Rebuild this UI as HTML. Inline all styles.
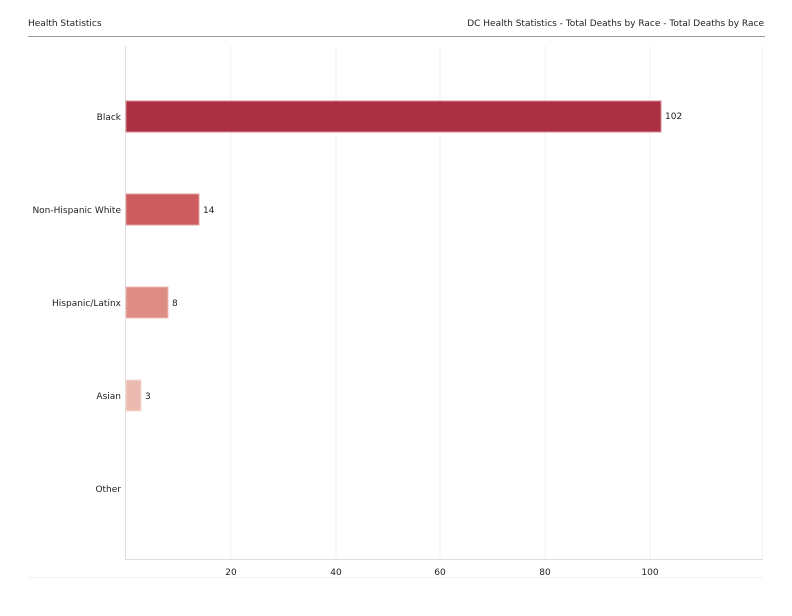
<!DOCTYPE html>
<html><head><style>
body{margin:0;background:#fff;width:792px;height:612px;overflow:hidden;font-family:"DejaVu Sans","Liberation Sans",sans-serif;}
</style></head><body>
<svg width="792" height="612" xmlns="http://www.w3.org/2000/svg" font-family="DejaVu Sans, Liberation Sans, sans-serif" font-size="9" fill="#222">
<text x="28" y="26">Health Statistics</text>
<text x="764" y="26" text-anchor="end">DC Health Statistics - Total Deaths by Race - Total Deaths by Race</text>
<line x1="28" y1="36.5" x2="765" y2="36.5" stroke="#999" stroke-width="1"/>
<g stroke="#f0f0f0" stroke-width="1">
<line x1="231" y1="46" x2="231" y2="559"/>
<line x1="336" y1="46" x2="336" y2="559"/>
<line x1="440" y1="46" x2="440" y2="559"/>
<line x1="545" y1="46" x2="545" y2="559"/>
<line x1="650" y1="46" x2="650" y2="559"/>
<line x1="762.5" y1="46" x2="762.5" y2="559"/>
</g>
<line x1="125.5" y1="46" x2="125.5" y2="559" stroke="#ddd"/>
<line x1="125" y1="559.5" x2="763" y2="559.5" stroke="#ddd"/>
<line x1="28" y1="577.5" x2="763" y2="577.5" stroke="#f3f3f3"/>
<rect x="126" y="101" width="535" height="31" fill="#ab3044" stroke="#d88a96" stroke-width="1"/>
<rect x="126" y="194" width="73" height="31" fill="#cc5c5e" stroke="#e3a0a0"/>
<rect x="126" y="287" width="42" height="31" fill="#de8d85" stroke="#eebcb6"/>
<rect x="126" y="380" width="15" height="31" fill="#ebbab0" stroke="#f5d8d2"/>
<g text-anchor="end">
<text x="121" y="120">Black</text>
<text x="121" y="213">Non-Hispanic White</text>
<text x="121" y="306">Hispanic/Latinx</text>
<text x="121" y="399">Asian</text>
<text x="121" y="492">Other</text>
</g>
<text x="665" y="119">102</text>
<text x="203" y="213">14</text>
<text x="172" y="306">8</text>
<text x="145" y="399">3</text>
<g text-anchor="middle">
<text x="231" y="575">20</text>
<text x="336" y="575">40</text>
<text x="440" y="575">60</text>
<text x="545" y="575">80</text>
<text x="650" y="575">100</text>
</g>
</svg>
</body></html>
